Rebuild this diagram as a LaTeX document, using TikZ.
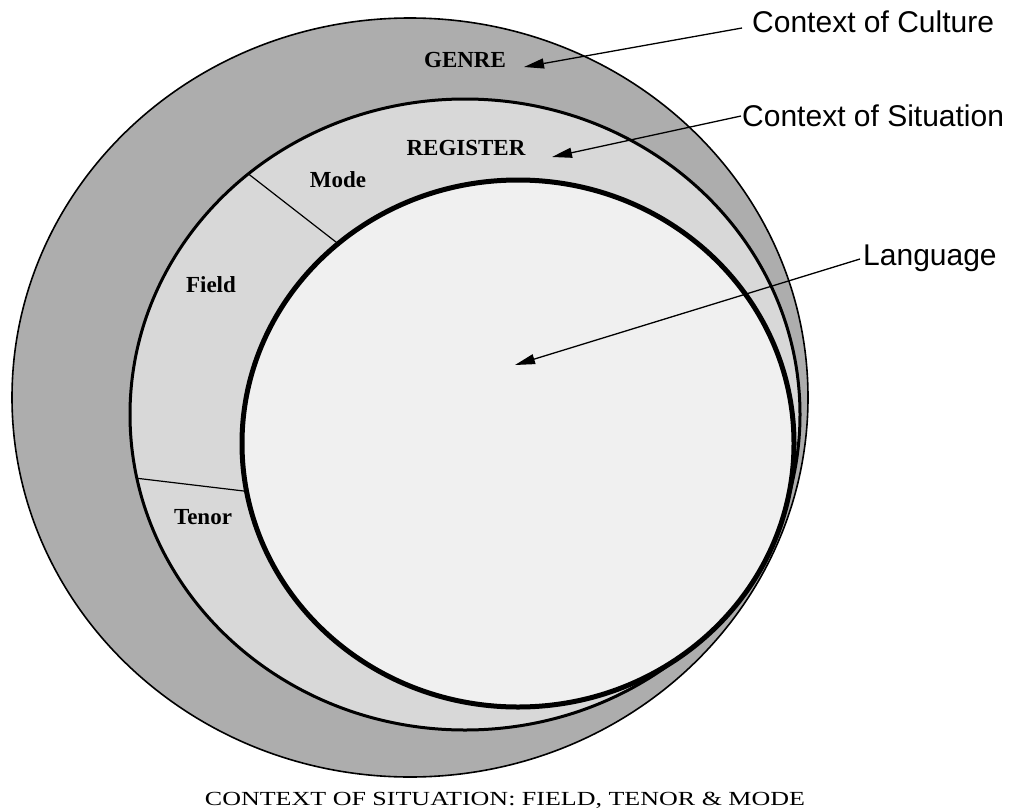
\documentclass[tikz,border=0pt]{standalone}
\usepackage{fontspec}
\setmainfont{Liberation Serif}
\newfontfamily\arialf{Liberation Sans}
\usetikzlibrary{shapes.geometric,arrows.meta}
\definecolor{genrefill}{HTML}{ADADAD}
\definecolor{regfill}{HTML}{D8D8D8}
\definecolor{langfill}{HTML}{F0F0F0}
\tikzset{
  ring/.style={ellipse, draw=black, inner sep=0pt, outer sep=0pt},
  lbl/.style={font=\bfseries\fontsize{23}{23}\selectfont, inner sep=0pt},
  side/.style={font=\arialf\fontsize{30}{30}\selectfont, inner sep=0pt, anchor=west},
  arr/.style={line width=1.3pt, -{Triangle[length=20pt,width=10pt]}},
  divider/.style={line width=1.2pt},
}
\begin{document}
\begin{tikzpicture}[x=1pt,y=-1pt]
\useasboundingbox (0,0) rectangle (1014,811);
% ellipses
\node[ring, fill=genrefill, line width=1.6pt, minimum width=796pt, minimum height=759pt] (genre) at (410,397.5) {};
\node[ring, fill=regfill, line width=3pt, minimum width=670pt, minimum height=631pt] (reg) at (465,414.5) {};
\node[ring, fill=langfill, line width=5pt, minimum width=552pt, minimum height=527pt] (lang) at (518,443.5) {};
% dividers
\draw[divider] (reg.132) -- (lang.132.5);
\draw[divider] (reg.191) -- (lang.190.8);
% labels
\node[lbl] (genrelbl) at (465,60) {GENRE};
\node[lbl] (reglbl) at (466,148) {REGISTER};
\node[lbl] (modelbl) at (338,180) {Mode};
\node[lbl] (fieldlbl) at (211,285) {Field};
\node[lbl] (tenorlbl) at (203,517) {Tenor};
% side labels
\node[side] (culture) at (752,22) {Context of Culture};
\node[side] (situation) at (742,116) {Context of Situation};
\node[side] (language) at (863,258) {Language};
% arrow targets
\coordinate (genretip) at (524,67);
\coordinate (regtip) at (552,157);
\coordinate (langtip) at (515,365);
\draw[arr] ([xshift=-10pt,yshift=-6pt]culture.west) -- (genretip);
\draw[arr] ([xshift=-1pt]situation.west) -- (regtip);
\draw[arr] ([xshift=-3pt,yshift=-1pt]language.west) -- (langtip);
% caption
\node[inner sep=0pt] (caption) at (505,800) {\scalebox{1.3}[1]{\fontsize{20}{20}\selectfont CONTEXT OF SITUATION: FIELD, TENOR \& MODE}};
\end{tikzpicture}
\end{document}
